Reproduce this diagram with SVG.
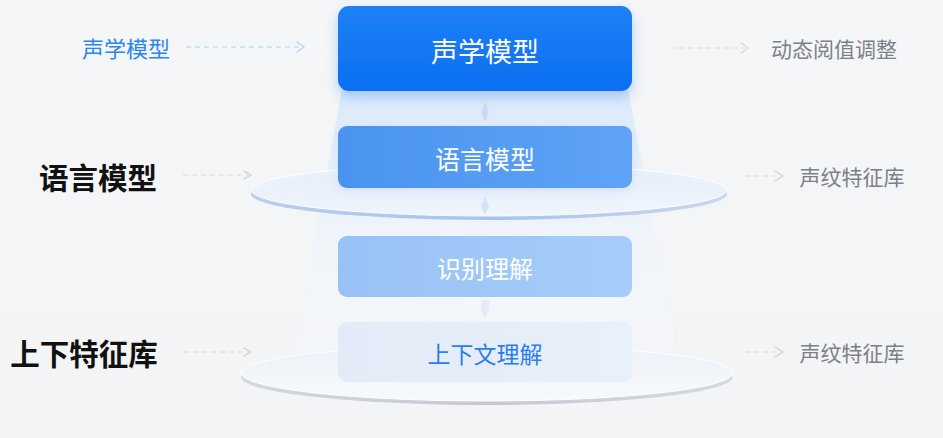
<svg xmlns="http://www.w3.org/2000/svg" width="943" height="438" viewBox="0 0 943 438">
<defs>
<style>
.t{font-family:"Noto Sans CJK SC","Noto Sans",sans-serif;dominant-baseline:central;text-anchor:middle}
.side{font-size:21px;fill:#7b8089}
.lbl{font-size:29.5px;font-weight:700;fill:#111}
.arrow{fill:none;stroke-dasharray:5 4;stroke-width:1.3}
.head{fill:none;stroke-width:1.5;stroke-linecap:round;stroke-linejoin:round}
</style>
<linearGradient id="bg" x1="0" y1="0" x2="0" y2="1"><stop offset="0" stop-color="#f5f6f7"/><stop offset="1" stop-color="#f3f4f5"/></linearGradient>
<linearGradient id="cone" x1="0" y1="0" x2="0" y2="1"><stop offset="0" stop-color="#d8e7fb" stop-opacity="0.9"/><stop offset="0.5" stop-color="#eef4fc" stop-opacity="0.7"/><stop offset="1" stop-color="#f6f9fd" stop-opacity="0.4"/></linearGradient>
<linearGradient id="b1" x1="0" y1="0" x2="0" y2="1"><stop offset="0" stop-color="#1e80f6"/><stop offset="1" stop-color="#0b6ff0"/></linearGradient>
<linearGradient id="b2" x1="0" y1="0" x2="1" y2="0"><stop offset="0" stop-color="#4a93f0"/><stop offset="1" stop-color="#5ea3f6"/></linearGradient>
<linearGradient id="b3" x1="0" y1="0" x2="1" y2="0"><stop offset="0" stop-color="#98c1f5"/><stop offset="1" stop-color="#a6cdf9"/></linearGradient>
<linearGradient id="b4" x1="0" y1="0" x2="1" y2="0"><stop offset="0" stop-color="#e2ebf7"/><stop offset="1" stop-color="#e8f0f9"/></linearGradient>
<linearGradient id="edge1" x1="0" y1="0" x2="1" y2="0"><stop offset="0" stop-color="#b9cff0"/><stop offset="0.5" stop-color="#a8c2ea"/><stop offset="1" stop-color="#c7d8f2"/></linearGradient>
<linearGradient id="edge2" x1="0" y1="0" x2="1" y2="0"><stop offset="0" stop-color="#d3d8df"/><stop offset="0.5" stop-color="#c5cad2"/><stop offset="1" stop-color="#d5dae1"/></linearGradient>
<linearGradient id="top1" x1="0" y1="0" x2="0" y2="1"><stop offset="0" stop-color="#e6effb"/><stop offset="1" stop-color="#f4f8fd"/></linearGradient>
<linearGradient id="top2" x1="0" y1="0" x2="0" y2="1"><stop offset="0" stop-color="#edf2f9"/><stop offset="1" stop-color="#f7f9fc"/></linearGradient>
<filter id="sh" x="-20%" y="-30%" width="140%" height="180%"><feDropShadow dx="0" dy="6" stdDeviation="6" flood-color="#1a74f0" flood-opacity="0.3"/></filter>
<filter id="sh2" x="-20%" y="-30%" width="140%" height="180%"><feDropShadow dx="0" dy="3" stdDeviation="4" flood-color="#5a8ed8" flood-opacity="0.15"/></filter>
</defs>
<rect width="943" height="438" fill="url(#bg)"/>
<polygon points="342,88 628,88 682,380 290,380" fill="url(#cone)"/>

<g id="disc-lower">
<ellipse cx="487" cy="377" rx="246" ry="28" fill="url(#edge2)"/>
<ellipse cx="487" cy="373" rx="246" ry="28" fill="url(#top2)" stroke="#ffffff" stroke-width="1"/>
</g>
<g id="disc-upper">
<ellipse cx="489" cy="194" rx="238" ry="26" fill="url(#edge1)"/>
<ellipse cx="489" cy="190" rx="238" ry="26" fill="url(#top1)" stroke="#ffffff" stroke-width="1" opacity="0.95"/>
</g>

<g id="connectors">
<path d="M485,102 L489,112 L485,122 L481,112 Z" fill="#c6dbf6"/>
<path d="M485,197 L489,206 L485,215 L481,206 Z" fill="#d3e2f6"/>
<path d="M481,300 L489,300 L489,310 L485,318 L481,310 Z" fill="#e3ecf7"/>
<path class="arrow" d="M186,47 H302" stroke="#c3dcf8"/>
<path class="head" d="M297,42 L304,47 L297,52" stroke="#b5d3f7"/>
<path class="arrow" d="M183,175 H248" stroke="#dfe3e8"/>
<path class="head" d="M244,171 L251,175 L244,179" stroke="#d2d6dc"/>
<path class="arrow" d="M184,352 H248" stroke="#dfe3e8"/>
<path class="head" d="M244,348 L251,352 L244,356" stroke="#d2d6dc"/>
<path class="arrow" d="M670,48 H745" stroke="#e2e5e9"/>
<path class="head" d="M741,43 L748,48 L741,53" stroke="#d6dade"/>
<path class="arrow" d="M745,176 H780" stroke="#e2e5e9"/>
<path class="head" d="M775,171 L783,176 L775,181" stroke="#d6dade"/>
<path class="arrow" d="M745,352 H780" stroke="#e2e5e9"/>
<path class="head" d="M775,347 L783,352 L775,357" stroke="#d6dade"/>
</g>

<g id="box-acoustic">
<rect x="338" y="6" width="294" height="85" rx="11" fill="url(#b1)" filter="url(#sh)"/>
<text class="t" x="485" y="50" font-size="27" fill="#ffffff">声学模型</text>
</g>
<g id="box-language">
<rect x="338" y="126" width="294" height="62" rx="9" fill="url(#b2)" filter="url(#sh2)"/>
<text class="t" x="485" y="158" font-size="25" fill="#ffffff">语言模型</text>
</g>
<g id="box-recognize">
<rect x="338" y="236" width="294" height="61" rx="9" fill="url(#b3)"/>
<text class="t" x="485" y="267" font-size="24" fill="#ffffff">识别理解</text>
</g>
<g id="box-context">
<rect x="338" y="322" width="294" height="60" rx="9" fill="url(#b4)"/>
<text class="t" x="485" y="353" font-size="23" fill="#2a7cf0">上下文理解</text>
</g>

<g id="label-acoustic"><text class="t" x="126" y="47" font-size="22" fill="#2a86f2">声学模型</text></g>
<g id="label-language"><text class="t lbl" x="98" y="176">语言模型</text></g>
<g id="label-context"><text class="t lbl" x="84" y="352">上下特征库</text></g>
<g id="label-threshold"><text class="t side" x="834" y="48">动态阅值调整</text></g>
<g id="label-voice1"><text class="t side" x="852" y="176">声纹特征库</text></g>
<g id="label-voice2"><text class="t side" x="852" y="352">声纹特征库</text></g>
</svg>
